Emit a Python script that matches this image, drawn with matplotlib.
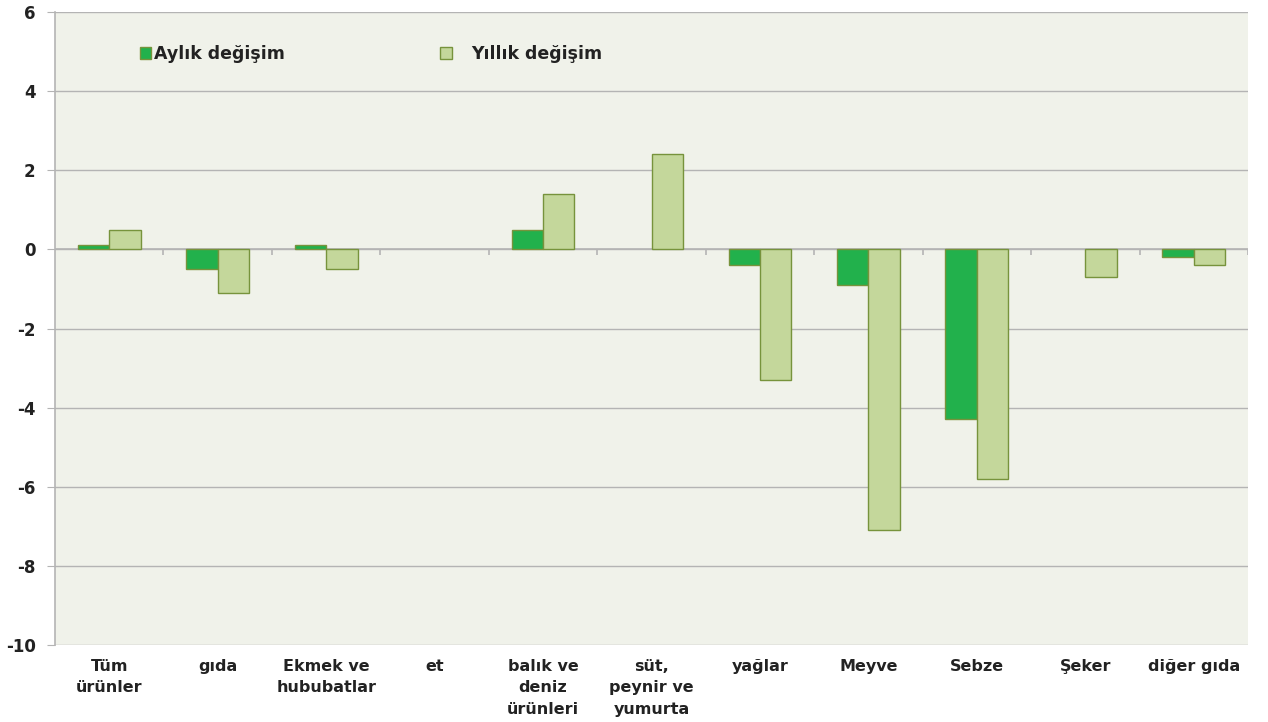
import numpy as np
import matplotlib.pyplot as plt
from matplotlib.patches import Patch

# Data
categories = ['Tüm\nürünler', 'gıda', 'Ekmek ve\nhububatlar', 'et',
              'balık ve\ndeniz\nürünleri', 'süt,\npeynir ve\nyumurta',
              'yağlar', 'Meyve', 'Sebze', 'Şeker', 'diğer gıda']
aylik = [0.1, -0.5, 0.1, 0.0, 0.5, 0.0, -0.4, -0.9, -4.3, 0.0, -0.2]
yillik = [0.5, -1.1, -0.5, 0.0, 1.4, 2.4, -3.3, -7.1, -5.8, -0.7, -0.4]
y_ticks = [-10, -8, -6, -4, -2, 0, 2, 4, 6]

dark_green = '#22B14C'
light_green = '#C4D79B'
edge = '#77933C'
grid_col = '#B4B4B4'
txt_col = '#222222'

fig = plt.figure(figsize=(12.68, 7.22), dpi=100)
ax = fig.add_axes([55 / 1268, 1 - 645 / 722, (1248 - 55) / 1268, (645 - 12) / 722])
ax.set_facecolor('#F0F2EA')

x = np.arange(len(categories))
w = 0.29
# zero values get no outline, so nothing shows (as in the original)
ax.bar(x - w / 2, aylik, w, color=dark_green,
       edgecolor=[edge if v != 0 else 'none' for v in aylik], linewidth=1, zorder=3)
ax.bar(x + w / 2, yillik, w, color=light_green,
       edgecolor=[edge if v != 0 else 'none' for v in yillik], linewidth=1, zorder=3)

ax.set_xlim(-0.5, len(categories) - 0.5)
ax.set_ylim(-10, 6)
ax.set_yticks(y_ticks)
ax.set_yticklabels([str(v) for v in y_ticks], fontsize=12, fontweight='bold', color=txt_col)
ax.yaxis.grid(True, color=grid_col, linewidth=1, zorder=0)
ax.tick_params(axis='y', length=6, color=grid_col, pad=8)

ax.set_xticks(x)
ax.set_xticklabels(categories, fontsize=11.5, fontweight='bold', color=txt_col, linespacing=1.55)
ax.tick_params(axis='x', length=0, pad=10)
for lbl in ax.get_xticklabels():
    lbl.set_verticalalignment('top')
    lbl.set_multialignment('center')

# zero line with category separators
ax.axhline(0, color=grid_col, linewidth=1.2, zorder=2)
ax.vlines(np.arange(len(categories)) + 0.5, 0, -0.13, color=grid_col, linewidth=1.2, zorder=2)

for s in ['top', 'right', 'bottom']:
    ax.spines[s].set_visible(False)
ax.spines['left'].set_color(grid_col)
ax.spines['left'].set_linewidth(1.2)

leg_font = {'size': 12.5, 'weight': 'bold'}
leg1 = ax.legend(handles=[Patch(facecolor=dark_green, edgecolor=edge)], labels=['Aylık değişim'],
                 loc='upper left', bbox_to_anchor=(0.058, 0.972), frameon=False,
                 handlelength=0.65, handleheight=0.65, handletextpad=0.15,
                 prop=leg_font, labelcolor=txt_col)
ax.add_artist(leg1)
ax.legend(handles=[Patch(facecolor=light_green, edgecolor=edge)], labels=['Yıllık değişim'],
          loc='upper left', bbox_to_anchor=(0.31, 0.972), frameon=False,
          handlelength=0.65, handleheight=0.65, handletextpad=1.1,
          prop=leg_font, labelcolor=txt_col)

fig.savefig('out.png', dpi=100)
